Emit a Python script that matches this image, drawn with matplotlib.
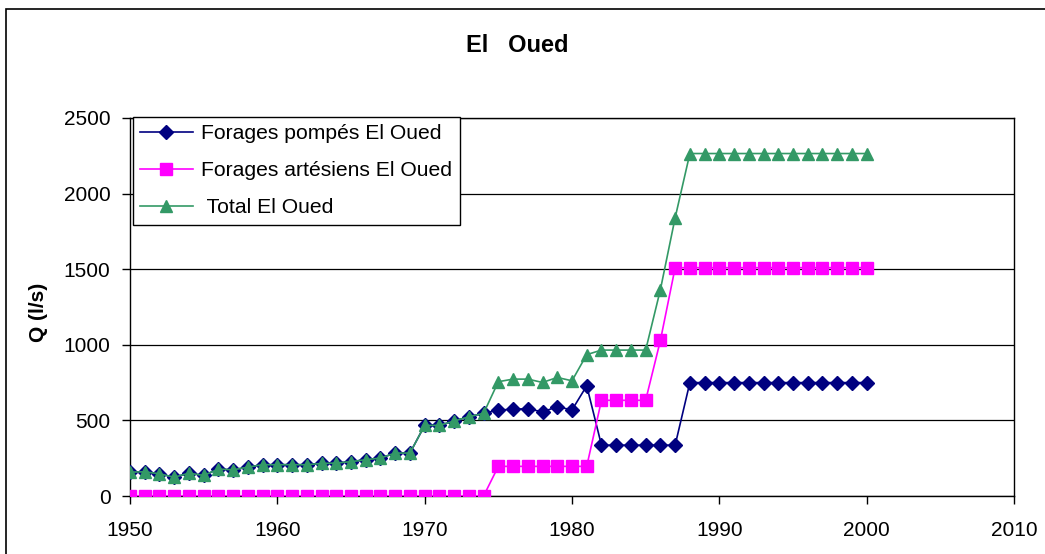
# -*- coding: utf-8 -*-

#---------------------------------------------------------------------
# Libraries
#---------------------------------------------------------------------
import numpy as np
import matplotlib as mpl
mpl.use('Agg')
import matplotlib.pyplot as plt
from matplotlib.patches import Rectangle


#---------------------------------------------------------------------
# Data (débits en l/s, El Oued)
#---------------------------------------------------------------------
years = list(range(1950, 2001))

pompes = [158, 160, 147, 124, 151, 136, 178, 173, 191, 207,
          207, 207, 207, 215, 218, 227, 240, 251, 284, 284,
          467, 467, 496, 524, 547, 569, 573, 578, 556, 591,
          569, 729, 336, 336, 336, 336, 336, 336, 750, 750,
          750, 750, 750, 750, 750, 750, 750, 750, 750, 750,
          750]

artesiens = [0, 0, 0, 0, 0, 0, 0, 0, 0, 0,
             0, 0, 0, 0, 0, 0, 0, 0, 0, 0,
             0, 0, 0, 0, 0, 196, 196, 196, 196, 196,
             196, 196, 633, 633, 633, 633, 1029, 1510, 1510, 1510,
             1510, 1510, 1510, 1510, 1510, 1510, 1510, 1510, 1510, 1510,
             1510]

total = [158, 160, 147, 124, 151, 136, 178, 173, 191, 207,
         207, 207, 207, 215, 218, 227, 240, 251, 284, 284,
         467, 467, 496, 524, 547, 756, 773, 773, 751, 784,
         762, 935, 965, 965, 965, 965, 1365, 1840, 2265, 2265,
         2265, 2265, 2265, 2265, 2265, 2265, 2265, 2265, 2265, 2265,
         2265]

series_labels = ['Forages pompés El Oued', 'Forages artésiens El Oued', ' Total El Oued']
x_ticks = [1950, 1960, 1970, 1980, 1990, 2000, 2010]
y_ticks = [0, 500, 1000, 1500, 2000, 2500]


#---------------------------------------------------------------------
# Figure
#---------------------------------------------------------------------
plt.rcParams['font.family'] = ['Liberation Sans', 'DejaVu Sans']

fig = plt.figure(figsize=(10.45, 5.54), dpi=100)
ax = fig.add_axes([130 / 1045, 1 - 496 / 554, 884 / 1045, 378 / 554])

# outer chart frame
fig.patches.append(Rectangle((6 / 1045, -0.1), 1.2, 1 - 9 / 554 + 0.1,
                             transform=fig.transFigure, fill=False,
                             edgecolor='black', linewidth=1.2))

ax.plot(years, pompes, color='#000080', marker='D', markersize=7,
        linewidth=1.2, label=series_labels[0], zorder=3)
ax.plot(years, artesiens, color='#FF00FF', marker='s', markersize=8,
        linewidth=1.2, label=series_labels[1], zorder=4)
ax.plot(years, total, color='#339966', marker='^', markersize=9,
        linewidth=1.2, label=series_labels[2], zorder=5)

# axes
ax.set_xlim(1950, 2010)
ax.set_ylim(0, 2500)
ax.set_xticks(x_ticks)
ax.set_yticks(y_ticks)
ax.tick_params(axis='both', direction='out', length=6, width=1,
               labelsize=15, colors='black')
ax.tick_params(axis='x', pad=12)
ax.tick_params(axis='y', pad=8)
ax.grid(axis='y', color='black', linewidth=0.9)
ax.set_axisbelow(True)
for sp in ax.spines.values():
    sp.set_linewidth(1.0)
    sp.set_color('black')

ax.set_ylabel('Q (l/s)', fontsize=15, fontweight='bold')
ax.yaxis.set_label_coords(-0.093, 0.485)

fig.text(0.495, 1 - 45 / 554, 'El   Oued', fontsize=17, fontweight='bold',
         ha='center', va='center')

leg = ax.legend(loc='upper left', bbox_to_anchor=(0.003, 1.003),
                borderaxespad=0, fontsize=15.2, frameon=True, fancybox=False,
                framealpha=1, edgecolor='black', handlelength=2.5,
                handletextpad=0.4, labelspacing=0.85, borderpad=0.35)
leg.get_frame().set_linewidth(1.0)
leg.set_zorder(10)

fig.savefig('out.png', dpi=100)
